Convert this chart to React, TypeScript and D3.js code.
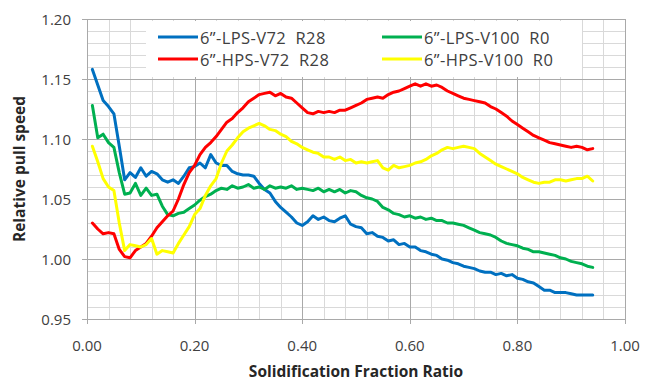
import React from "react";
import * as d3 from "d3";

// solidification fraction ratio (x) shared by all four series
const fraction = [
  0.01, 0.02, 0.03, 0.04, 0.05, 0.06, 0.07, 0.08, 0.09, 0.1,
  0.11, 0.12, 0.13, 0.14, 0.15, 0.16, 0.17, 0.18, 0.19, 0.2,
  0.21, 0.22, 0.23, 0.24, 0.25, 0.26, 0.27, 0.28, 0.29, 0.3,
  0.31, 0.32, 0.33, 0.34, 0.35, 0.36, 0.37, 0.38, 0.39, 0.4,
  0.41, 0.42, 0.43, 0.44, 0.45, 0.46, 0.47, 0.48, 0.49, 0.5,
  0.51, 0.52, 0.53, 0.54, 0.55, 0.56, 0.57, 0.58, 0.59, 0.6,
  0.61, 0.62, 0.63, 0.64, 0.65, 0.66, 0.67, 0.68, 0.69, 0.7,
  0.71, 0.72, 0.73, 0.74, 0.75, 0.76, 0.77, 0.78, 0.79, 0.8,
  0.81, 0.82, 0.83, 0.84, 0.85, 0.86, 0.87, 0.88, 0.89, 0.9,
  0.91, 0.92, 0.93, 0.94,
];

const lpsV72 = [
  1.158, 1.145, 1.132, 1.127, 1.121, 1.094, 1.066, 1.072, 1.068, 1.076,
  1.069, 1.073, 1.071, 1.066, 1.064, 1.066, 1.063, 1.069, 1.076, 1.077,
  1.08, 1.076, 1.087, 1.08, 1.078, 1.078, 1.073, 1.071, 1.07, 1.07,
  1.069, 1.063, 1.058, 1.055, 1.048, 1.043, 1.039, 1.035, 1.03, 1.028,
  1.031, 1.036, 1.033, 1.035, 1.032, 1.031, 1.034, 1.036, 1.029, 1.027,
  1.026, 1.021, 1.022, 1.019, 1.018, 1.015, 1.016, 1.012, 1.013, 1.01,
  1.01, 1.007, 1.006, 1.004, 1.003, 1.0, 0.999, 0.997, 0.996, 0.994,
  0.993, 0.992, 0.99, 0.989, 0.989, 0.987, 0.988, 0.986, 0.987, 0.984,
  0.983, 0.981, 0.98, 0.977, 0.974, 0.974, 0.972, 0.972, 0.972, 0.971,
  0.97, 0.97, 0.97, 0.97,
];

const lpsV100 = [
  1.128, 1.101, 1.104, 1.097, 1.093, 1.072, 1.054, 1.055, 1.063, 1.053,
  1.059, 1.053, 1.054, 1.044, 1.037, 1.036, 1.038, 1.039, 1.042, 1.045,
  1.049, 1.052, 1.054, 1.057, 1.059, 1.058, 1.061, 1.059, 1.06, 1.062,
  1.059, 1.06, 1.058, 1.061, 1.059, 1.06, 1.059, 1.061, 1.058, 1.059,
  1.058, 1.057, 1.059, 1.056, 1.058, 1.056, 1.058, 1.055, 1.057, 1.056,
  1.053, 1.051, 1.05, 1.048, 1.043, 1.041, 1.038, 1.037, 1.035, 1.036,
  1.034, 1.035, 1.033, 1.034, 1.032, 1.032, 1.03, 1.03, 1.029, 1.028,
  1.026, 1.024, 1.022, 1.021, 1.02, 1.018, 1.015, 1.013, 1.012, 1.011,
  1.009, 1.008, 1.006, 1.006, 1.005, 1.004, 1.003, 1.001, 1.0, 0.998,
  0.997, 0.996, 0.994, 0.993,
];

const hpsV72 = [
  1.03, 1.025, 1.021, 1.022, 1.021, 1.008, 1.002, 1.001, 1.007, 1.01,
  1.013, 1.019, 1.026, 1.031, 1.036, 1.04, 1.05, 1.062, 1.072, 1.078,
  1.087, 1.093, 1.097, 1.102, 1.108, 1.114, 1.117, 1.122, 1.126, 1.131,
  1.134, 1.137, 1.138, 1.139, 1.136, 1.138, 1.135, 1.134, 1.13, 1.126,
  1.122, 1.121, 1.123, 1.122, 1.123, 1.122, 1.124, 1.124, 1.126, 1.128,
  1.13, 1.133, 1.134, 1.135, 1.134, 1.137, 1.139, 1.14, 1.142, 1.144,
  1.146, 1.144, 1.146, 1.144, 1.145, 1.143, 1.14, 1.138, 1.136, 1.134,
  1.133, 1.132, 1.131, 1.13, 1.127, 1.125, 1.122, 1.119, 1.115, 1.112,
  1.109, 1.106, 1.103, 1.101, 1.099, 1.097, 1.096, 1.095, 1.094, 1.093,
  1.094, 1.093, 1.091, 1.092,
];

const hpsV100 = [
  1.094, 1.081, 1.067, 1.06, 1.057, 1.03, 1.007, 1.012, 1.011, 1.01,
  1.012, 1.017, 1.004, 1.007, 1.006, 1.005, 1.013, 1.02, 1.027, 1.037,
  1.042, 1.053, 1.061, 1.067, 1.08, 1.09, 1.095, 1.101, 1.106, 1.109,
  1.111, 1.113, 1.111, 1.108, 1.107, 1.104, 1.102, 1.098, 1.096, 1.093,
  1.091, 1.089, 1.088, 1.085, 1.085, 1.083, 1.085, 1.082, 1.083, 1.08,
  1.081, 1.08, 1.081, 1.082, 1.076, 1.074, 1.078, 1.076, 1.077, 1.078,
  1.08, 1.081, 1.083, 1.086, 1.088, 1.091, 1.093, 1.092, 1.093, 1.094,
  1.093, 1.092, 1.088, 1.085, 1.082, 1.079, 1.077, 1.075, 1.073, 1.071,
  1.068, 1.066, 1.064, 1.063, 1.064, 1.064, 1.066, 1.066, 1.065, 1.066,
  1.067, 1.067, 1.069, 1.065,
];

const seriesNames = ["6\u201D-LPS-V72  R28", "6\u201D-LPS-V100  R0", "6\u201D-HPS-V72  R28", "6\u201D-HPS-V100  R0"];
const seriesValues = [lpsV72, lpsV100, hpsV72, hpsV100];
const seriesColors = ["#0070C0", "#00B050", "#FF0000", "#FFFF00"];

const xTicks = [0, 0.2, 0.4, 0.6, 0.8, 1.0];
const yTicks = [0.95, 1.0, 1.05, 1.1, 1.15, 1.2];

const W = 656;
const H = 381;
const margin = { top: 19, right: 31, bottom: 62, left: 87 };
const font = "'Open Sans', 'DejaVu Sans', sans-serif";

export default function App() {
  const x = d3.scaleLinear().domain([0, 1]).range([margin.left, W - margin.right]);
  const y = d3.scaleLinear().domain([0.95, 1.2]).range([H - margin.bottom, margin.top]);

  // minor grid every 0.04 on x and 0.01 on y
  const minorX = d3.range(0, 26).map((i) => i * 0.04);
  const minorY = d3.range(0, 26).map((i) => 0.95 + i * 0.01);

  const line = d3
    .line<number>()
    .x((_, i) => x(fraction[i]))
    .y((d) => y(d));

  const [x0, x1] = x.range();
  const [y0, y1] = y.range();

  return (
    <div style={{ position: "fixed", left: 0, top: 0 }}>
      <svg width={W} height={H} style={{ display: "block", background: "#fff" }}>
        {/* minor grid */}
        <g stroke="#d9d9d9" strokeWidth={1}>
          {minorX.map((v, i) => (
            <line key={"mx" + i} x1={Math.round(x(v)) + 0.5} x2={Math.round(x(v)) + 0.5} y1={y1} y2={y0} />
          ))}
          {minorY.map((v, i) => (
            <line key={"my" + i} x1={x0} x2={x1} y1={Math.round(y(v)) + 0.5} y2={Math.round(y(v)) + 0.5} />
          ))}
        </g>
        {/* major grid + ticks */}
        <g stroke="#a9a9a9" strokeWidth={1}>
          {xTicks.map((v, i) => (
            <line key={"Mx" + i} x1={Math.round(x(v)) + 0.5} x2={Math.round(x(v)) + 0.5} y1={y1} y2={y0 + 5} />
          ))}
          {yTicks.map((v, i) => (
            <line key={"My" + i} x1={x0 - 5} x2={x1} y1={Math.round(y(v)) + 0.5} y2={Math.round(y(v)) + 0.5} />
          ))}
        </g>

        {/* legend box */}
        <rect x={146} y={21} width={436} height={56} fill="#fff" />

        {/* series */}
        <g fill="none" strokeWidth={3} strokeLinejoin="round" strokeLinecap="round">
          {seriesValues.map((vals, i) => (
            <path key={i} d={line(vals) || ""} stroke={seriesColors[i]} />
          ))}
        </g>

        {/* tick labels */}
        <g fontFamily={font} fontSize={15} fill="#404040">
          {yTicks.map((v, i) => (
            <text key={"yl" + i} x={71} y={y(v)} textAnchor="end" dominantBaseline="central">
              {d3.format(".2f")(v)}
            </text>
          ))}
          {xTicks.map((v, i) => (
            <text key={"xl" + i} x={x(v)} y={345} textAnchor="middle" dominantBaseline="central">
              {d3.format(".2f")(v)}
            </text>
          ))}
        </g>

        {/* axis titles */}
        <text
          x={(x0 + x1) / 2}
          y={371}
          textAnchor="middle"
          dominantBaseline="central"
          fontFamily={font}
          fontWeight="bold"
          fontSize={15.5}
          fill="#262626"
        >
          Solidification Fraction Ratio
        </text>
        <text
          transform={`translate(19, ${(y0 + y1) / 2}) rotate(-90)`}
          textAnchor="middle"
          dominantBaseline="central"
          fontFamily={font}
          fontWeight="bold"
          fontSize={15.5}
          fill="#262626"
        >
          Relative pull speed
        </text>

        {/* legend entries */}
        <g fontFamily={font} fontSize={16.5} fill="#404040" letterSpacing={0.4}>
          {seriesNames.map((name, i) => {
            const col = i % 2;
            const row = Math.floor(i / 2);
            const lx = col === 0 ? 158 : 382;
            const ly = row === 0 ? 37 : 59;
            return (
              <g key={"lg" + i}>
                <line x1={lx} x2={lx + 40} y1={ly} y2={ly} stroke={seriesColors[i]} strokeWidth={3} />
                <text x={lx + 42} y={ly} dominantBaseline="central" xmlSpace="preserve">
                  {name}
                </text>
              </g>
            );
          })}
        </g>
      </svg>
    </div>
  );
}
